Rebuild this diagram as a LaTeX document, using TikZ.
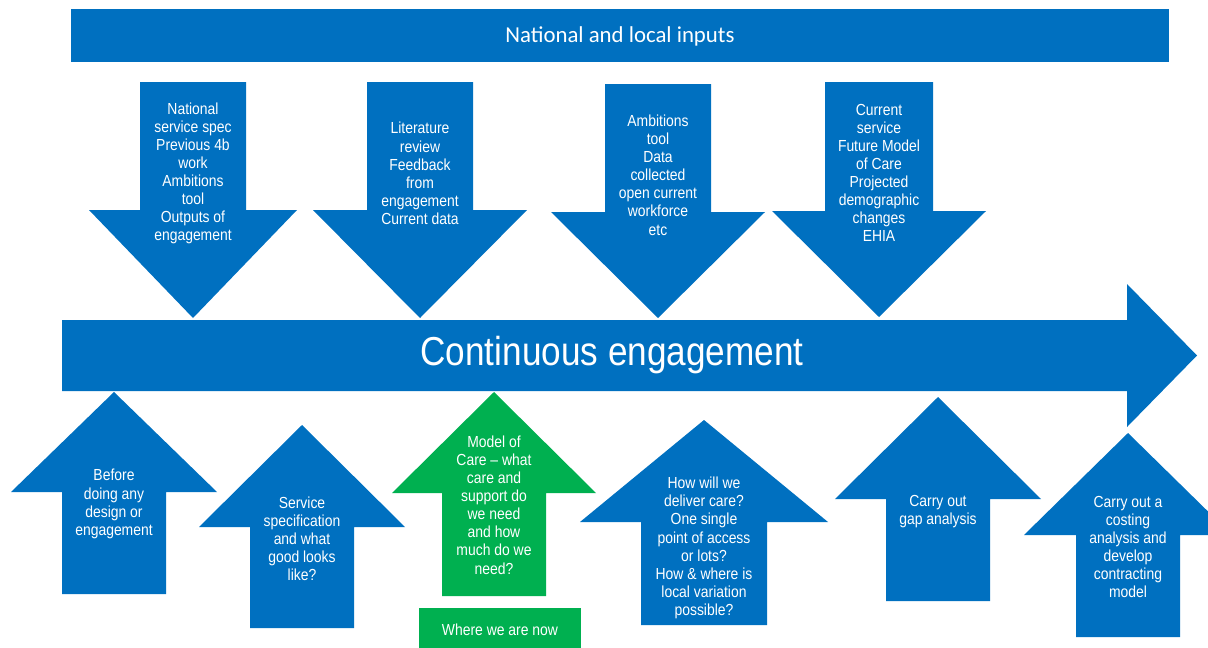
\documentclass[tikz,border=0pt]{standalone}
\usepackage{fontspec}
\setmainfont{Liberation Sans}[FakeStretch=0.87]
\newfontfamily\bannerfont{Carlito}
\usetikzlibrary{positioning}
\definecolor{inblue}{RGB}{0,112,192}
\definecolor{nowgreen}{RGB}{0,176,80}
\tikzset{
    arrtext/.style={align=center, text=white, inner sep=0pt,
        font=\fontsize{16}{18.1}\selectfont},
    bigtext/.style={text=white, inner sep=0pt, font=\fontsize{40.4}{46}\selectfont},
    bantext/.style={text=white, inner sep=0pt, font=\bannerfont\fontsize{22.8}{26}\selectfont}
}
% block arrow: colour, cx, shaft half width, head half width, shaft end, head base, tip
\newcommand{\blockarrow}[7]{%
    \fill[#1] ({#2-#3},#5) -- ({#2+#3},#5) -- ({#2+#3},#6) -- ({#2+#4},#6)
        -- (#2,#7) -- ({#2-#4},#6) -- ({#2-#3},#6) -- cycle;}

\begin{document}
\begin{tikzpicture}[x=1pt, y=-1pt]
    \useasboundingbox (0,0) rectangle (1208,648);
    \clip (0,0) rectangle (1208,648);
    % inputs banner
    \fill[inblue] (71,9) rectangle (1169,62);
    \node[bantext] (inputs) at (620,36) {National and local inputs};
    % inputs
    \blockarrow{inblue}{193}{53}{104}{82}{210}{318}
    \blockarrow{inblue}{420}{53}{107}{82}{210}{318}
    \blockarrow{inblue}{658}{53}{107}{84}{212}{318}
    \blockarrow{inblue}{879}{54}{107}{82}{211}{317}
    \node[arrtext] (spec) at (193,173.5) {National\\service spec\\Previous 4b\\work\\Ambitions\\tool\\Outputs of\\engagement};
    \node[arrtext] (lit) at (420,173.5) {Literature\\review\\Feedback\\from\\engagement\\Current data};
    \node[arrtext] (data) at (658,175) {Ambitions\\tool\\Data\\collected\\open current\\workforce\\etc};
    \node[arrtext] (demo) at (879,173) {Current\\service\\Future Model\\of Care\\Projected\\demographic\\changes\\EHIA};
    % main arrow
    \fill[inblue] (62,320) -- (1127,320) -- (1127,284) -- (1197,355.5)
        -- (1127,427) -- (1127,391) -- (62,391) -- cycle;
    \node[bigtext] (engage) at (612,355) {Continuous engagement};
    % steps
    \blockarrow{inblue}{114}{52}{103}{594}{492}{392}
    \blockarrow{inblue}{302}{52}{103}{628}{527}{425}
    \blockarrow{nowgreen}{494}{52}{102}{596}{493}{392}
    \blockarrow{inblue}{704}{63}{124}{625}{522}{420}
    \blockarrow{inblue}{938}{52}{103}{601}{499}{397}
    \blockarrow{inblue}{1128}{52}{104}{637}{535}{433}
    \node[arrtext] (before) at (114,504) {Before\\doing any\\design or\\engagement};
    \node[arrtext] (servspec) at (302,539) {Service\\specification\\and what\\good looks\\like?};
    \node[arrtext] (model) at (494,505) {Model of\\Care -- what\\care and\\support do\\we need\\and how\\much do we\\need?};
    \node[arrtext] (deliver) at (704,548) {How will we\\deliver care?\\One single\\point of access\\or lots?\\How \& where is\\local variation\\possible?};
    \node[arrtext] (gap) at (938,512) {Carry out\\gap analysis};
    \node[arrtext] (costing) at (1128,547) {Carry out a\\costing\\analysis and\\develop\\contracting\\model};
    % current position
    \fill[nowgreen] (419,608) rectangle (581,648);
    \node[arrtext] (now) at (500,630) {Where we are now};
\end{tikzpicture}
\end{document}
